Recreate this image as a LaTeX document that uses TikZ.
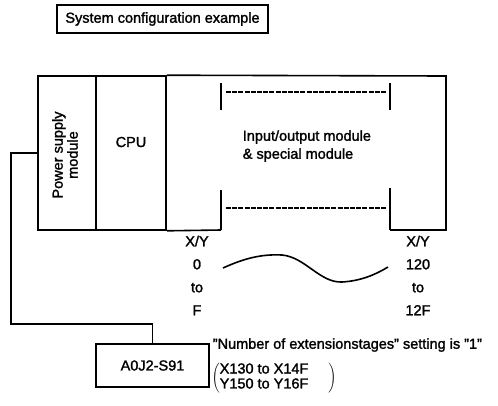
\documentclass[tikz,border=0pt]{standalone}
\usepackage{fontspec}
\setmainfont{Liberation Sans}[FakeBold=1.6]
\usetikzlibrary{positioning,calc}
\newcommand{\dq}{\symbol{34}}

\begin{document}
\begin{tikzpicture}[x=1pt,y=-1pt,line width=1.6pt,
  every node/.style={font=\fontsize{14.5}{17}\selectfont,inner sep=0pt},
  module/.style={draw,minimum height=154pt},
  addr/.style={align=center,font=\fontsize{14.5}{23}\selectfont},
  gap/.style={dash pattern=on 5pt off 1.2pt,line width=1.2pt}]
\useasboundingbox (0,0) rectangle (498,405);
\node[draw,minimum width=211pt,minimum height=28pt] (title) at (162.5,19) {System configuration example};
% base unit
\node[module,minimum width=58pt] (power) at (67,153) {};
\node[rotate=90,align=center,font=\fontsize{14.5}{15}\selectfont] (powertxt) at (65,155) {Power supply\\module};
\node[module,minimum width=70pt] (cpu) at (131,153) {};
\node (cputxt) at (131,142) {CPU};
\draw (cpu.north east) -- (446,76) -- (446,230) -- (390,230);
\draw (cpu.south east) -- (221,230);
\node[anchor=west,align=left,font=\fontsize{14.5}{18}\selectfont] (iotxt) at (242,146) {Input/output module\\\& special module};
% slot brackets
\draw (221,83) -- (221,110) (390,83) -- (390,110);
\draw[gap] (226,92) -- (386,92);
\draw (221,190) -- (221,230) (390,188) -- (390,230);
\draw[gap] (226,208) -- (386,208);
% addresses
\node[addr] (lowaddr) at (197,275.5) {X/Y\\0\\to\\F};
\node[addr] (highaddr) at (418,275.5) {X/Y\\120\\to\\12F};
\draw (223,268) .. controls (245,258) and (262,254) .. (282,255)
  .. controls (305,257) and (320,283) .. (342,282)
  .. controls (360,281) and (375,275) .. (388,267);
% extension cable
\node[draw,minimum width=113pt,minimum height=43pt] (adapter) at (152.5,365.5) {A0J2-S91};
\draw (power.west) -- ++(-26,0) -- ++(0,171) -| (adapter.north);
\node[anchor=west] (setting) at (212,345) {\dq Number of extensionstages\dq\ setting is \dq 1\dq};
\node[anchor=west] (range) at (211,378) {\renewcommand{\arraystretch}{0.88}$\Bigg(\begin{tabular}{@{}l@{\hspace{20pt}}}X130 to X14F\\Y150 to Y16F\end{tabular}\Bigg)$};
\end{tikzpicture}
\end{document}
